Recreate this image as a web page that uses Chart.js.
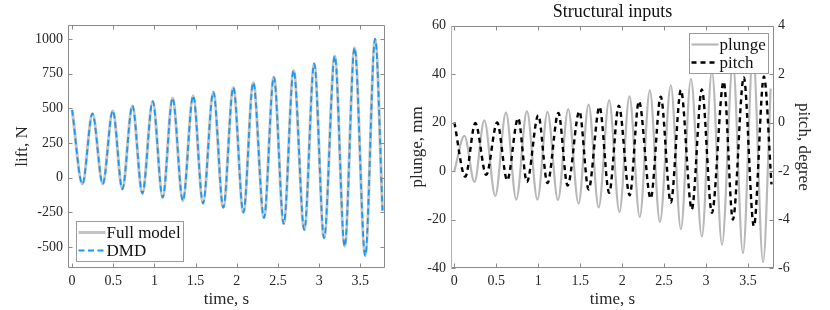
<!DOCTYPE html>
<html>
<head>
<meta charset="utf-8">
<script src="https://cdn.jsdelivr.net/npm/chart.js@4"></script>
<style>
  html, body { margin: 0; padding: 0; background: #fff; }
  #wrap { position: relative; width: 830px; height: 310px; overflow: hidden; }
  #left { position: absolute; left: 0; top: 0; }
  #right { position: absolute; left: 405px; top: 0; }
</style>
</head>
<body>
<div id="wrap">
  <canvas id="left" width="405" height="310"></canvas>
  <canvas id="right" width="425" height="310"></canvas>
</div>
<script>
// Values (extremes of each oscillation, time in s)
const LIFT_TIME = [0, 0.125, 0.247, 0.372, 0.494, 0.61, 0.732, 0.853, 0.979, 1.10, 1.22, 1.345,
    1.47, 1.59, 1.715, 1.836, 1.958, 2.08, 2.20, 2.33, 2.45, 2.57, 2.69, 2.82, 2.94, 3.06,
    3.19, 3.31, 3.43, 3.56, 3.68, 3.77];
const LIFT_FULL = [488, -45, 462, -45, 483, -81, 519, -113, 550, -142, 574, -165,
    591, -184, 617, -214, 649, -250, 685, -288, 725, -331, 773, -374, 821, -434,
    876, -494, 936, -561, 1000, -237];
const LIFT_DMD = [488, -45, 462, -45, 483, -81, 519, -113, 550, -142, 574, -165,
    591, -184, 617, -214, 649, -250, 685, -288, 725, -331, 773, -374, 821, -434,
    876, -494, 936, -561, 1000, -237];

const PLUNGE_TIME = [0, 0.12, 0.24, 0.357, 0.488, 0.615, 0.738, 0.865, 0.99, 1.11, 1.235, 1.357,
    1.48, 1.60, 1.72, 1.845, 1.968, 2.087, 2.21, 2.33, 2.45, 2.58, 2.70, 2.82, 2.95, 3.07,
    3.19, 3.32, 3.44, 3.56, 3.68, 3.77];
const PLUNGE = [0, 14.5, -4.5, 20.9, -10.3, 24.2, -11.8, 24.7, -11.8, 24.4, -12, 25.6,
    -13.4, 27.4, -15, 29.2, -16.9, 30.8, -19, 33.3, -21, 35.3, -24, 38, -27, 41.2,
    -30.4, 44.7, -33.9, 48.8, -37.6, 34];

const PITCH_TIME = [0, 0.13, 0.25, 0.38, 0.51, 0.63, 0.76, 0.865, 1.0, 1.11, 1.24, 1.35,
    1.49, 1.60, 1.73, 1.845, 1.96, 2.09, 2.20, 2.34, 2.46, 2.58, 2.70, 2.83, 2.95, 3.07,
    3.21, 3.32, 3.45, 3.57, 3.69, 3.78];
const PITCH = [0, -2.23, -0.02, -2.16, 0, -2.38, 0.18, -2.45, 0.3, -2.5, 0.4, -2.6,
    0.46, -2.76, 0.65, -2.9, 0.7, -3.0, 0.88, -3.13, 1.07, -3.3, 1.34, -3.58, 1.37, -3.72,
    1.69, -4.0, 1.86, -4.27, 1.9, -2.55];

const TIME_TICKS = [0, 0.5, 1, 1.5, 2, 2.5, 3, 3.5];
const LIFT_TICKS = [-500, -250, 0, 250, 500, 750, 1000];
const PLUNGE_TICKS = [-40, -20, 0, 20, 40, 60];
const PITCH_TICKS = [-6, -4, -2, 0, 2, 4];

const FONT = "'Liberation Serif', 'Times New Roman', serif";
const TEXT = '#262626';
const AXIS = '#8a8a8a';
const TICK_LEN = 4;

const COLORS = {
    full: '#c4c4c4',
    dmd: '#1a98f0',
    plunge: '#b8b8b8',
    pitch: '#000000'
};

function pts(xs, ys) {
    return xs.map((x, i) => ({ x: x, y: ys[i] }));
}

function fixedTicks(list) {
    return scale => { scale.ticks = list.map(v => ({ value: v })); };
}

const tickFont = { family: FONT, size: 14 };
const labelFont = { family: FONT, size: 17 };
const xTitleFont = { family: FONT, size: 17, lineHeight: 1 };

// MATLAB-like frame: box, inward ticks on both sides, boxed legend inside the axes
const framePlugin = {
    id: 'frame',
    afterDraw(chart, args, opts) {
        const { ctx, chartArea: a } = chart;
        const L = Math.round(a.left) + 0.5, R = Math.round(a.right) - 0.5;
        const T = Math.round(a.top) + 0.5, B = Math.round(a.bottom) - 0.5;
        ctx.save();
        ctx.lineWidth = 1;

        const seg = (x1, y1, x2, y2) => {
            ctx.beginPath(); ctx.moveTo(x1, y1); ctx.lineTo(x2, y2); ctx.stroke();
        };

        // legend
        if (opts.legend) {
            const lg = opts.legend;
            ctx.font = `${labelFont.size}px ${FONT}`;
            const items = lg.order.map(i => chart.data.datasets[i]);
            const textW = Math.max(...items.map(d => ctx.measureText(d.label).width));
            const w = Math.round(2 + 28 + textW + 3), h = 18 * items.length + 4;
            let x0, y0;
            if (lg.corner === 'sw') { x0 = L + lg.dx; y0 = B - lg.dy - h; }
            else { x0 = R - lg.dx - w; y0 = T + lg.dy; }
            x0 = Math.round(x0) + 0.5; y0 = Math.round(y0) + 0.5;
            ctx.fillStyle = '#fff';
            ctx.fillRect(x0, y0, w, h);
            ctx.strokeStyle = '#9a9a9a';
            ctx.strokeRect(x0, y0, w, h);
            items.forEach((d, k) => {
                const cy = y0 + 11 + 18 * k;
                ctx.save();
                ctx.strokeStyle = d.borderColor;
                ctx.lineWidth = d.borderWidth;
                ctx.setLineDash(d.borderDash || []);
                seg(x0 + 2, cy, x0 + 29, cy);
                ctx.restore();
                ctx.fillStyle = '#111';
                ctx.textBaseline = 'middle';
                ctx.textAlign = 'left';
                ctx.fillText(d.label, x0 + 30, cy + 1);
            });
        }

        // x ticks, bottom and top
        const xs = chart.scales.x;
        ctx.strokeStyle = AXIS;
        xs.ticks.forEach(t => {
            const px = Math.round(xs.getPixelForValue(t.value)) + 0.5;
            seg(px, B, px, B - TICK_LEN);
            seg(px, T, px, T + TICK_LEN);
        });
        // y ticks
        opts.yAxes.forEach(ax => {
            const sc = chart.scales[ax.id];
            ctx.strokeStyle = ax.color;
            sc.ticks.forEach(t => {
                const py = Math.round(sc.getPixelForValue(t.value)) + 0.5;
                if (ax.sides.includes('left')) seg(L, py, L + TICK_LEN, py);
                if (ax.sides.includes('right')) seg(R, py, R - TICK_LEN, py);
            });
        });

        // box
        ctx.strokeStyle = AXIS;
        seg(L, B, R, B);
        seg(L, T, R, T);
        ctx.strokeStyle = opts.leftColor || AXIS;
        ctx.lineWidth = opts.leftWidth || 1;
        seg(L, T, L, B);
        ctx.strokeStyle = opts.rightColor || AXIS;
        ctx.lineWidth = 1;
        seg(R, T, R, B);
        ctx.restore();
    }
};

function timeAxis(min, max) {
    return {
        type: 'linear',
        min: min,
        max: max,
        afterBuildTicks: fixedTicks(TIME_TICKS),
        afterFit: s => { s.height = 42; },
        grid: { display: false, drawTicks: false },
        border: { display: false },
        ticks: { font: tickFont, color: TEXT, padding: 5, maxRotation: 0, autoSkip: false,
            callback: v => String(v) },
        title: { display: true, text: 'time, s', font: xTitleFont, color: TEXT,
            padding: { top: 0, bottom: 2 } }
    };
}

const baseLine = {
    pointRadius: 0,
    fill: false,
    cubicInterpolationMode: 'monotone'
};

new Chart(document.getElementById('left'), {
    type: 'line',
    data: {
        datasets: [
            { ...baseLine, label: 'Full model', data: pts(LIFT_TIME, LIFT_FULL),
                borderColor: COLORS.full, borderWidth: 3, order: 2 },
            { ...baseLine, label: 'DMD', data: pts(LIFT_TIME, LIFT_DMD),
                borderColor: COLORS.dmd, borderWidth: 1.8, borderDash: [6, 3.5], order: 1 }
        ]
    },
    options: {
        responsive: false,
        animation: false,
        devicePixelRatio: 1,
        events: [],
        layout: { padding: { top: 25, right: 20, left: 0, bottom: 0 } },
        plugins: {
            legend: { display: false },
            tooltip: { enabled: false },
            frame: {
                yAxes: [{ id: 'y', sides: ['left', 'right'], color: AXIS }],
                legend: { order: [0, 1], corner: 'sw', dx: 7, dy: 7 }
            }
        },
        scales: {
            x: timeAxis(-0.05, 3.8),
            y: {
                type: 'linear',
                min: -650,
                max: 1100,
                afterBuildTicks: fixedTicks(LIFT_TICKS),
                afterFit: s => { s.width = 68; },
                grid: { display: false, drawTicks: false },
                border: { display: false },
                ticks: { font: tickFont, color: TEXT, padding: 5, callback: v => String(v) },
                title: { display: true, text: 'lift, N', font: labelFont, color: TEXT,
                    padding: { top: 12, bottom: 0 } }
            }
        }
    },
    plugins: [framePlugin]
});

new Chart(document.getElementById('right'), {
    type: 'line',
    data: {
        datasets: [
            { ...baseLine, label: 'plunge', data: pts(PLUNGE_TIME, PLUNGE), yAxisID: 'y',
                borderColor: COLORS.plunge, borderWidth: 2.2, order: 2 },
            { ...baseLine, label: 'pitch', data: pts(PITCH_TIME, PITCH), yAxisID: 'y1',
                borderColor: COLORS.pitch, borderWidth: 2.4, borderDash: [5, 4], order: 1 }
        ]
    },
    options: {
        responsive: false,
        animation: false,
        devicePixelRatio: 1,
        events: [],
        layout: { padding: 0 },
        plugins: {
            legend: { display: false },
            tooltip: { enabled: false },
            title: {
                display: true,
                text: 'Structural inputs',
                fullSize: false,
                font: { family: FONT, size: 18, weight: 'normal' },
                color: '#111',
                padding: { top: 1, bottom: 3 }
            },
            frame: {
                yAxes: [
                    { id: 'y', sides: ['left'], color: AXIS },
                    { id: 'y1', sides: ['right'], color: AXIS }
                ],
                leftColor: '#b0b0b0',
                leftWidth: 1,
                legend: { order: [0, 1], corner: 'ne', dx: 6, dy: 6 }
            }
        },
        scales: {
            x: timeAxis(-0.04, 3.81),
            y: {
                type: 'linear',
                position: 'left',
                min: -40,
                max: 60,
                afterBuildTicks: fixedTicks(PLUNGE_TICKS),
                afterFit: s => { s.width = 46; },
                grid: { display: false, drawTicks: false },
                border: { display: false },
                ticks: { font: tickFont, color: TEXT, padding: 5, callback: v => String(v) },
                title: { display: true, text: 'plunge, mm', font: labelFont, color: TEXT,
                    padding: { top: 2, bottom: 0 } }
            },
            y1: {
                type: 'linear',
                position: 'right',
                min: -6,
                max: 4,
                afterBuildTicks: fixedTicks(PITCH_TICKS),
                afterFit: s => { s.width = 56; },
                grid: { display: false, drawTicks: false },
                border: { display: false },
                ticks: { font: tickFont, color: TEXT, padding: 4, callback: v => String(v) },
                title: { display: true, text: 'pitch, degree', font: labelFont, color: TEXT,
                    padding: { top: 16, bottom: 0 } }
            }
        }
    },
    plugins: [framePlugin]
});
</script>
</body>
</html>
